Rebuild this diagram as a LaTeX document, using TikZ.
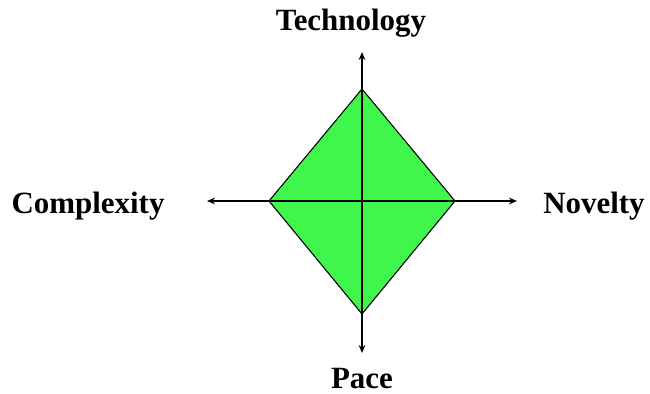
\documentclass[tikz,border=0pt]{standalone}
\usepackage{fontspec}
\setmainfont{Liberation Serif}
\usetikzlibrary{arrows.meta, positioning, calc}
\definecolor{verde}{RGB}{64,246,76}
\tikzset{
  etichetta/.style={anchor=base, font=\bfseries\fontsize{23.2}{27}\selectfont},
  asse/.style={{Stealth[length=6pt,width=5pt]}-{Stealth[length=6pt,width=5pt]}, line width=1.5pt}
}

\begin{document}
\begin{tikzpicture}[x=0.75pt,y=-0.75pt,>=stealth]
    \useasboundingbox (0,0) rectangle (650,393);
    % Vertici del rombo
    \coordinate (sopra) at (362,89);
    \coordinate (sotto) at (362,314);
    \coordinate (sx) at (269,201);
    \coordinate (dx) at (455,201);
    % Estremi degli assi
    \coordinate (asse-n) at (362,52);
    \coordinate (asse-s) at (362,353);
    \coordinate (asse-o) at (207,201);
    \coordinate (asse-e) at (517,201);
    % Rombo
    \draw[fill=verde, line width=0.8pt] (sopra) -- (dx) -- (sotto) -- (sx) -- cycle;
    % Assi
    \draw[asse] (asse-o) -- (asse-e);
    \draw[asse] (asse-s) -- (asse-n);
    % Etichette
    \node[etichetta] (tech) at (351,30) {Technology};
    \node[etichetta] (pace) at (362,388) {Pace};
    \node[etichetta] (compl) at (88,213) {Complexity};
    \node[etichetta] (nov) at (594,213) {Novelty};
\end{tikzpicture}
\end{document}
